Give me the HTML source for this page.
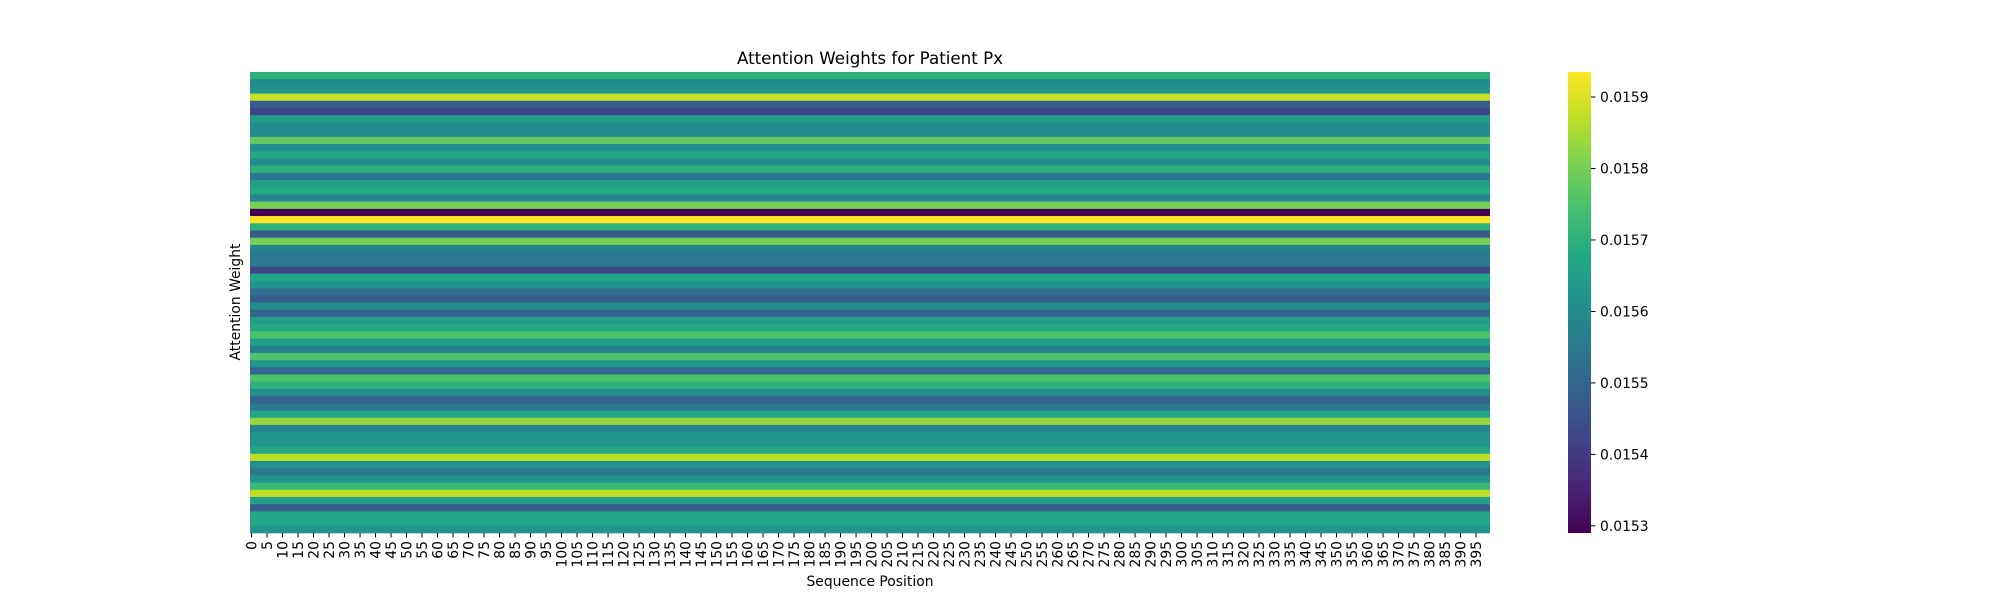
<!DOCTYPE html>
<html><head><meta charset="utf-8"><style>
body{margin:0;background:#fff;}
svg text{font-family:"DejaVu Sans","Liberation Sans",sans-serif;fill:#000;}
</style></head><body>
<svg id="chart" width="2000" height="600" viewBox="0 0 2000 600" xmlns="http://www.w3.org/2000/svg">
<defs>
<linearGradient id="viridis" x1="0" y1="1" x2="0" y2="0">
<stop offset="0" stop-color="#440154"/><stop offset="0.1" stop-color="#482475"/><stop offset="0.2" stop-color="#414487"/><stop offset="0.3" stop-color="#355f8d"/><stop offset="0.4" stop-color="#2a788e"/><stop offset="0.5" stop-color="#21918c"/><stop offset="0.6" stop-color="#22a884"/><stop offset="0.7" stop-color="#44bf70"/><stop offset="0.8" stop-color="#7ad151"/><stop offset="0.9" stop-color="#bddf26"/><stop offset="1" stop-color="#fde725"/>
</linearGradient>
</defs>
<text x="870" y="64" font-size="16.7" text-anchor="middle">Attention Weights for Patient Px</text>
<text transform="translate(240,302) rotate(-90)" font-size="13.9" text-anchor="middle">Attention Weight</text>
<text x="870" y="586" font-size="13.9" text-anchor="middle">Sequence Position</text>
<g id="cells"></g>
<g id="xticks"></g>
<rect x="1568" y="72" width="23" height="461" fill="url(#viridis)"/>
<g id="cticks"></g>
</svg>
<script>
const rowValues = [0.01570,0.01560,0.01562,0.01588,0.01547,0.01542,0.01565,0.01560,0.01560,0.01578,
0.01561,0.01567,0.01560,0.01570,0.01555,0.01565,0.01568,0.01558,0.01580,0.01529,
0.015935,0.01570,0.01547,0.01580,0.01558,0.01555,0.01555,0.01543,0.01567,0.01562,
0.01553,0.01548,0.01560,0.01550,0.01565,0.01568,0.01575,0.01565,0.01557,0.01575,
0.01563,0.01550,0.01575,0.01570,0.01560,0.01550,0.01555,0.01567,0.01583,0.01558,
0.01562,0.01562,0.01567,0.01587,0.01561,0.01555,0.01562,0.01572,0.01587,0.01565,
0.01548,0.01567,0.01567,0.01562];
const numPositions = 400;
const xTickLabels = Array.from({length:80},(_, i)=>String(i*5));
const colorTicks = [0.0153,0.0154,0.0155,0.0156,0.0157,0.0158,0.0159];

const NS="http://www.w3.org/2000/svg";
const X0=250,X1=1490,Y0=72,Y1=533;
const vmin=Math.min(...rowValues), vmax=Math.max(...rowValues);
const colW=(X1-X0)/numPositions, rowH=(Y1-Y0)/rowValues.length;
const xPos=i=>X0+i*colW;
const yPos=r=>Y0+r*rowH;
const cY=v=>Y1-(v-vmin)/(vmax-vmin)*(Y1-Y0);
const stops=["#440154","#482475","#414487","#355f8d","#2a788e","#21918c","#22a884","#44bf70","#7ad151","#bddf26","#fde725"].map(h=>[1,3,5].map(k=>parseInt(h.substr(k,2),16)));
function viridis(t){t=Math.max(0,Math.min(1,t));const f=t*10,i=Math.min(9,Math.floor(f)),u=f-i;
const c=stops[i].map((a,k)=>Math.round(a+(stops[i+1][k]-a)*u));return `rgb(${c[0]},${c[1]},${c[2]})`;}

const cells=document.getElementById('cells');
rowValues.forEach((v,r)=>{
  const el=document.createElementNS(NS,'rect');
  
  
  el.setAttribute('x',xPos(0));el.setAttribute('y',yPos(r));
  el.setAttribute('width',xPos(numPositions)-xPos(0));el.setAttribute('height',rowH+0.3);
  el.setAttribute('fill',viridis((v-vmin)/(vmax-vmin)));
  cells.appendChild(el);
});
const xt=document.getElementById('xticks');
xTickLabels.forEach(l=>{
  const x=xPos(+l+0.5);
  const ln=document.createElementNS(NS,'line');
  
  
  ln.setAttribute('x1',x);ln.setAttribute('x2',x);ln.setAttribute('y1',Y1);ln.setAttribute('y2',Y1+4.5);
  ln.setAttribute('stroke','#000');ln.setAttribute('stroke-width','1');
  xt.appendChild(ln);
  const t=document.createElementNS(NS,'text');
  
  
  t.setAttribute('transform',`translate(${x+5},${Y1+8}) rotate(-90)`);
  t.setAttribute('text-anchor','end');t.setAttribute('font-size','13.9');
  t.textContent=l;xt.appendChild(t);
});
const ct=document.getElementById('cticks');
colorTicks.forEach(v=>{
  const y=cY(v);
  const ln=document.createElementNS(NS,'line');
  
  
  ln.setAttribute('x1',1591);ln.setAttribute('x2',1595.5);ln.setAttribute('y1',y);ln.setAttribute('y2',y);
  ln.setAttribute('stroke','#000');ln.setAttribute('stroke-width','1');
  ct.appendChild(ln);
  const t=document.createElementNS(NS,'text');
  
  
  t.setAttribute('x',1600);t.setAttribute('y',y+5);t.setAttribute('font-size','13.9');
  t.textContent=v.toFixed(4);ct.appendChild(t);
});
</script>
</body></html>
